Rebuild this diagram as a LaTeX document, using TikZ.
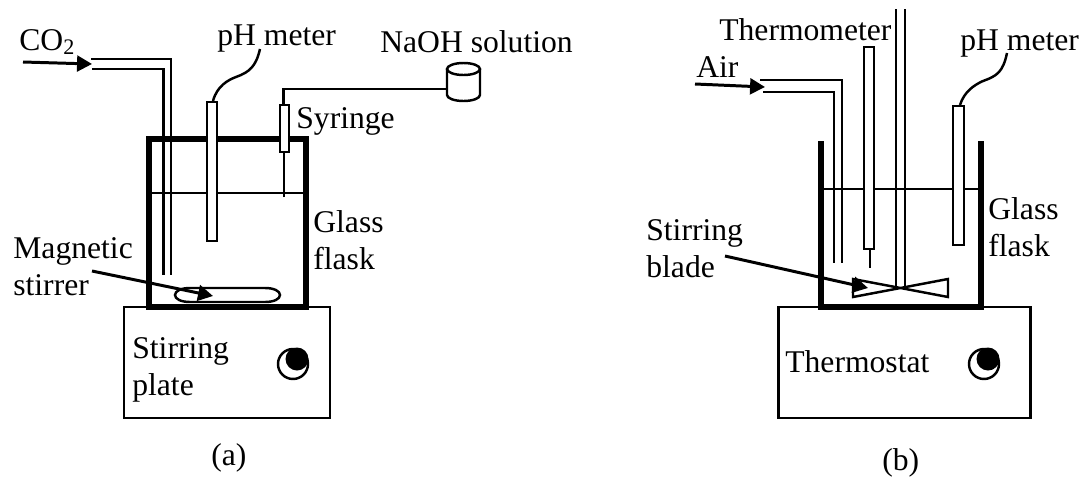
\documentclass[tikz,border=0pt]{standalone}
\usepackage{fontspec}
\setmainfont{Liberation Serif}
\usetikzlibrary{arrows.meta}
\tikzset{
  tag/.style={inner sep=0pt,anchor=base west,align=left,font=\fontsize{18}{21}\selectfont},
  flaskwall/.style={line width=2.9pt},
  pipe/.style={line width=1.4pt},
  probe/.style={line width=1pt,fill=white},
  base plate/.style={line width=1.7pt},
  level/.style={line width=1.1pt},
  pointer/.style={line width=1.7pt,-{Triangle[length=8.5pt,width=9pt]}},
  wire/.style={line width=1.4pt}
}
\begin{document}
\begin{tikzpicture}[x=0.02cm,y=-0.02cm]
\useasboundingbox (0,0) rectangle (1082,477);
\begin{scope}
\draw[base plate] (124,307) rectangle (330,418);
\draw[flaskwall] (149,139) rectangle (306,307);
\draw[level] (149,193) -- (306,193);
% gas inlet
\draw[pipe] (91,59) -- (171,59) -- (171,275);
\draw[pipe] (92,69) -- (163.5,69) -- (163.5,275);
\coordinate (gasstart) at (23,62);
\coordinate (gasend) at (92,64);
\draw[pointer] (gasstart) -- (gasend);
% electrode and cable
\draw[probe] (207,102) rectangle (217,241);
\draw[wire] (213,101) .. controls (217,86) and (228,80) .. (236,77) .. controls (250,72) and (256,66) .. (260,49);
% syringe and feed line
\draw[pipe] (284,197) -- (284,152);
\draw[pipe,fill=white] (280,105) rectangle (289,152);
\draw[pipe] (283.5,105) -- (283.5,89) -- (447,89);
\draw[pipe,fill=white] (447,69) -- (447,95) arc[start angle=180,end angle=360,x radius=16.5,y radius=-6] -- (480,69);
\draw[pipe] (463.5,69) ellipse (16.5 and 6);
% stirrer
\draw[pipe] (175,295) .. controls (175,291) and (181,288) .. (190,288) -- (265,288) .. controls (274,288) and (280,291) .. (280,295) .. controls (280,299) and (274,302) .. (265,302) -- (190,302) .. controls (181,302) and (175,299) .. (175,295) -- cycle;
\coordinate (magstart) at (92,271);
\coordinate (magend) at (213,296);
\draw[pointer] (magstart) -- (magend);
% knob
\draw[pipe] (293,364) circle (15);
\fill (297,359) circle (11.5);
\node[tag] (co) at (19,50) {CO\textsubscript{2}};
\node[tag] (pha) at (217,45) {pH meter};
\node[tag] (naoh) at (380,52) {NaOH solution};
\node[tag] (syringe) at (296,128) {Syringe};
\node[tag] (glassa) at (313,269) {Glass\\flask};
\node[tag] (magnetic) at (13,295) {Magnetic\\stirrer};
\node[tag] (plate) at (132,395) {Stirring\\plate};
\node[tag] (capa) at (211,465) {(a)};
\end{scope}
\begin{scope}
\draw[base plate] (778,307) rectangle (1030,418);
\draw[flaskwall] (821,141) -- (821,307) -- (981,307) -- (981,141);
\draw[level] (821,189) -- (981,189);
% gas inlet
\draw[pipe] (760,80) -- (842,80) -- (842,263);
\draw[pipe] (763,92) -- (834,92) -- (834,263);
\coordinate (airstart) at (695,84);
\coordinate (airend) at (765,87);
\draw[pointer] (airstart) -- (airend);
% thermometer
\draw[pipe] (870,249) -- (870,268);
\draw[probe] (864,47) rectangle (874,249);
% shaft and blade
\draw[pipe] (896,9) -- (896,288);
\draw[pipe] (905,9) -- (905,288);
\draw[pipe] (853,279) -- (948,297) -- (948,279) -- (853,297) -- cycle;
\coordinate (bladestart) at (725,256);
\coordinate (bladeend) at (868,288);
\draw[pointer] (bladestart) -- (bladeend);
% electrode and cable
\draw[probe] (953,106) rectangle (964,245);
\draw[wire] (960,105) .. controls (964,92) and (974,85) .. (983,81) .. controls (997,76) and (1003,72) .. (1007,53);
% knob
\draw[pipe] (984,364) circle (15);
\fill (988,359) circle (11.5);
\node[tag] (thermo) at (719,40) {Thermometer};
\node[tag] (air) at (696,77) {Air};
\node[tag] (phb) at (960,50) {pH meter};
\node[tag] (glassb) at (988,256) {Glass\\flask};
\node[tag] (blade) at (646,277) {Stirring\\blade};
\node[tag] (thermostat) at (785,372) {Thermostat};
\node[tag] (capb) at (882,470) {(b)};
\end{scope}
\end{tikzpicture}
\end{document}
